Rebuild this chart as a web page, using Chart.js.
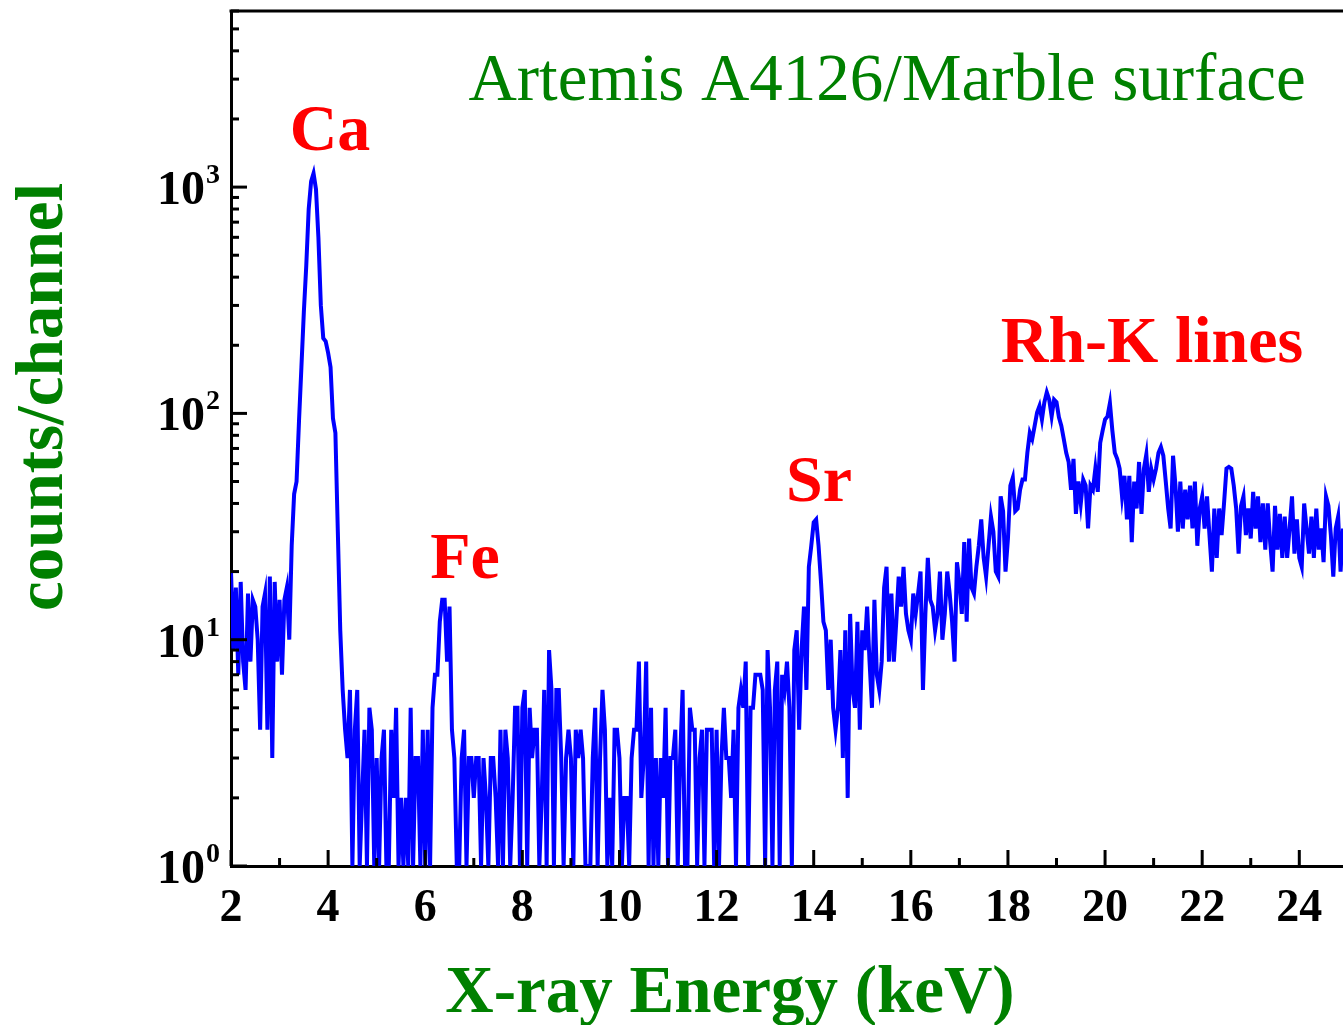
<!DOCTYPE html>
<html>
<head>
<meta charset="utf-8">
<script src="https://cdn.jsdelivr.net/npm/chart.js@4/dist/chart.umd.min.js"></script>
<style>
  body { margin: 0; background: #fff; }
  canvas { display: block; }
</style>
</head>
<body>
<canvas id="spectrum" width="1343" height="1025"></canvas>
<script>
// channel calibration of the spectrum (keV)
const energyStart = 2.0;
const energyStep = 0.05;

// counts per channel (1 = channel at the bottom axis)
// 2.00 - 4.45 keV
const countsCa = [
  20, 9, 17, 7, 18, 8, 6, 16, 8, 15,
  14, 10, 4, 14, 16, 4, 19, 3, 18, 8,
  15, 7, 15, 17, 10, 26, 44, 50, 92, 160,
  280, 450, 800, 1060, 1150, 980, 600, 300, 215, 208,
  185, 160, 95, 82, 30, 11, 6, 4, 3, 6
];
// 4.50 - 9.95 keV
const countsFe = [
  1, 4, 6, 1, 2, 4, 1, 5, 4, 1,
  3, 1, 3, 4, 1, 1, 4, 2, 5, 1,
  2, 1, 2, 1, 5, 1, 3, 3, 1, 4,
  1, 4, 1, 5, 7, 7, 12, 15, 15, 8,
  14, 4, 3, 1, 1, 3, 4, 1, 3, 3,
  2, 3, 3, 1, 3, 2, 1, 3, 3, 2,
  1, 4, 1, 4, 3, 1, 2, 5, 5, 1,
  5, 6, 1, 5, 3, 4, 4, 1, 2, 6,
  1, 9, 6, 1, 6, 6, 3, 1, 3, 4,
  3, 1, 4, 3, 4, 3, 1, 1, 1, 3,
  5, 1, 3, 6, 4, 1, 2, 1, 4, 4
];
// 10.00 - 15.95 keV
const countsSr = [
  3, 1, 2, 2, 1, 3, 4, 4, 8, 2,
  3, 8, 1, 5, 1, 3, 1, 3, 2, 5,
  1, 3, 3, 4, 1, 3, 6, 1, 1, 5,
  4, 4, 1, 3, 4, 1, 4, 4, 4, 1,
  4, 1, 3, 5, 3, 3, 2, 4, 1, 5,
  6, 5, 8, 1, 5, 5, 7, 7, 7, 6,
  1, 9, 5, 1, 6, 8, 1, 7, 6, 8,
  5, 1, 9, 11, 4, 9, 14, 6, 21, 26,
  33, 34, 26, 18, 12, 11, 6, 10, 5, 4,
  5, 9, 3, 11, 2, 13, 6, 5, 12, 4,
  11, 9, 14, 8, 5, 15, 7, 6, 8, 17,
  21, 8, 16, 8, 12, 19, 14, 21, 13, 11
];
// 16.00 - 24.90 keV
const countsRh = [
  10, 16, 13, 16, 20, 6, 13, 23, 15, 14,
  11, 13, 20, 10, 13, 20, 16, 12, 8, 22,
  18, 13, 27, 12, 28, 17, 16, 21, 26, 34,
  23, 19, 26, 35, 30, 20, 19, 43, 37, 20,
  28, 48, 52, 37, 38, 46, 51, 51, 67, 82,
  77, 88, 101, 108, 94, 112, 124, 115, 97, 115,
  112, 96, 88, 77, 67, 61, 46, 63, 36, 50,
  40, 51, 48, 31, 48, 46, 57, 45, 74, 84,
  94, 97, 111, 84, 67, 63, 57, 43, 53, 34,
  53, 27, 50, 38, 61, 36, 57, 66, 45, 57,
  51, 57, 67, 71, 65, 50, 38, 31, 65, 48,
  30, 50, 31, 46, 34, 48, 31, 50, 26, 38,
  43, 31, 43, 29, 20, 38, 23, 38, 29, 40,
  57, 58, 57, 48, 38, 24, 39, 43, 29, 38,
  28, 45, 31, 43, 27, 40, 25, 40, 27, 20,
  39, 25, 36, 23, 35, 23, 31, 43, 24, 34,
  23, 21, 40, 31, 24, 35, 23, 38, 25, 31,
  22, 43, 39, 29, 19, 31, 35, 20, 31
];

const xTicks = [2, 4, 6, 8, 10, 12, 14, 16, 18, 20, 22, 24];
const yDecades = [1, 10, 100, 1000];
const yExponents = ['0', '1', '2', '3'];

const counts = countsCa.concat(countsFe, countsSr, countsRh);
const points = counts.map((c, i) => ({ x: energyStart + i * energyStep, y: c }));

const serif = "'Liberation Serif', 'Times New Roman', serif";

// inward ticks, top frame, y labels and the text on the figure
const decorations = {
  id: 'decorations',
  afterDraw(chart) {
    const { ctx, chartArea } = chart;
    const x = chart.scales.x;
    const y = chart.scales.y;
    ctx.save();
    ctx.strokeStyle = '#000';
    ctx.lineWidth = 3;

    // top frame line
    ctx.beginPath();
    ctx.moveTo(chartArea.left - 1.5, chartArea.top);
    ctx.lineTo(chartArea.right, chartArea.top);
    ctx.stroke();

    // x ticks, major every 2 keV, minor every 1 keV
    for (let e = 2; e <= 24; e++) {
      const px = x.getPixelForValue(e);
      const len = e % 2 === 0 ? 16 : 8;
      ctx.beginPath();
      ctx.moveTo(px, chartArea.bottom);
      ctx.lineTo(px, chartArea.bottom - len);
      ctx.stroke();
    }

    // y ticks, decades and 2..9
    yDecades.forEach(d => {
      for (let m = 1; m <= 9; m++) {
        const v = d * m;
        if (v > y.max) break;
        const py = y.getPixelForValue(v);
        const len = m === 1 ? 16 : 8;
        ctx.beginPath();
        ctx.moveTo(chartArea.left, py);
        ctx.lineTo(chartArea.left + len, py);
        ctx.stroke();
      }
    });

    // y labels 10^n
    ctx.fillStyle = '#000';
    ctx.textBaseline = 'alphabetic';
    yDecades.forEach((d, i) => {
      const py = y.getPixelForValue(d);
      ctx.font = 'bold 48px ' + serif;
      ctx.textAlign = 'right';
      ctx.fillText('10', 205, py + 17);
      ctx.font = 'bold 28px ' + serif;
      ctx.textAlign = 'left';
      ctx.fillText(yExponents[i], 206, py - 4);
    });

    // element labels
    ctx.fillStyle = '#ff0000';
    ctx.font = 'bold 66px ' + serif;
    ctx.textAlign = 'center';
    ctx.fillText('Ca', 330, 150);
    ctx.fillText('Fe', 465, 578);
    ctx.fillText('Sr', 819, 501);
    ctx.fillText('Rh-K lines', 1152, 362);

    // sample name
    ctx.fillStyle = '#008000';
    ctx.font = '67px ' + serif;
    ctx.fillText('Artemis A4126/Marble surface', 887, 100);

    // axis titles
    ctx.font = 'bold 67px ' + serif;
    ctx.fillText('X-ray Energy (keV)', 730, 1012);
    ctx.save();
    ctx.translate(62, 397);
    ctx.rotate(-Math.PI / 2);
    ctx.fillText('counts/channel', 0, 0);
    ctx.restore();

    ctx.restore();
  }
};

const ctx = document.getElementById('spectrum').getContext('2d');
const chart = new Chart(ctx, {
  type: 'line',
  data: {
    datasets: [{
      data: points,
      borderColor: '#0000ff',
      borderWidth: 4,
      pointRadius: 0,
      tension: 0,
      fill: false
    }]
  },
  options: {
    responsive: false,
    animation: false,
    devicePixelRatio: 1,
    layout: { padding: { top: 11, right: 0, left: 0, bottom: 0 } },
    plugins: {
      legend: { display: false },
      tooltip: { enabled: false }
    },
    scales: {
      x: {
        type: 'linear',
        min: 2,
        max: 24.9,
        grid: { display: false, drawTicks: false },
        border: { display: true, color: '#000', width: 3 },
        afterBuildTicks: scale => { scale.ticks = xTicks.map(v => ({ value: v })); },
        afterFit: scale => { scale.height = 159; },
        ticks: {
          color: '#000',
          padding: 16,
          maxRotation: 0,
          autoSkip: false,
          font: { family: serif, weight: 'bold', size: 46 }
        }
      },
      y: {
        type: 'logarithmic',
        min: 1,
        max: 6000,
        grid: { display: false, drawTicks: false },
        border: { display: true, color: '#000', width: 3 },
        ticks: { display: false },
        afterFit: scale => { scale.width = 231; }
      }
    }
  },
  plugins: [decorations]
});
</script>
</body>
</html>
